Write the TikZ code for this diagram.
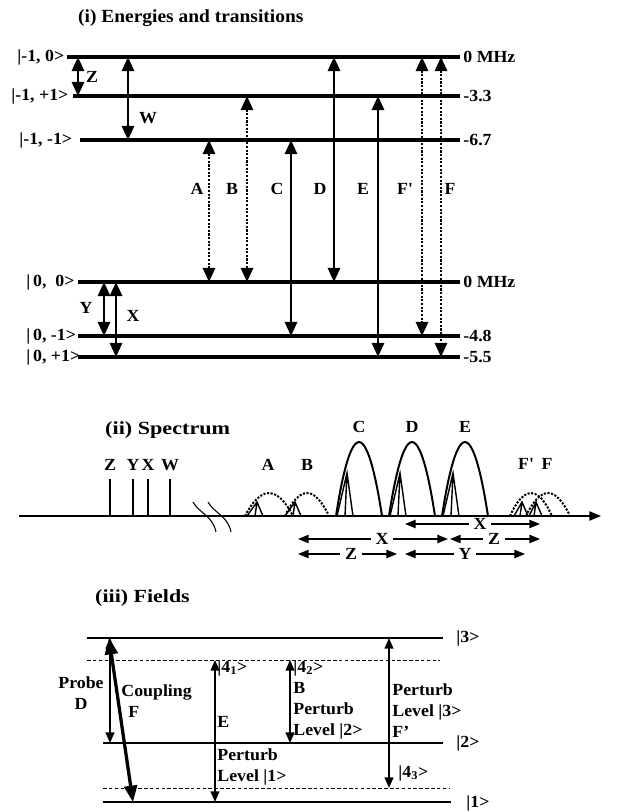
\documentclass[tikz,border=0pt]{standalone}
\usepackage{fontspec}
\setmainfont[FakeStretch=1.05]{Liberation Serif}
\usetikzlibrary{arrows.meta}

\tikzset{
  lvl/.style={line width=2.6pt},
  tri/.style={line width=1.7pt,{Triangle[length=12pt,width=10.5pt]}-{Triangle[length=12pt,width=10.5pt]}},
  dots/.style={dash pattern=on 1.8pt off 1.3pt},
  lbl/.style={font=\fontsize{14.5}{18}\selectfont\bfseries,inner sep=1pt},
  ttl/.style={font=\fontsize{15.8}{19}\selectfont\bfseries,anchor=west,inner sep=0pt},
  hump/.style={line width=1.7pt},
  dimarr/.style={line width=1.2pt,-{Triangle[length=9pt,width=7pt]}},
  fline/.style={line width=1pt},
  fdash/.style={line width=0.8pt,dash pattern=on 3pt off 2pt},
  farr/.style={line width=1.2pt,{Triangle[length=9pt,width=7.5pt]}-{Triangle[length=9pt,width=7.5pt]}},
}

\begin{document}
\begin{tikzpicture}[x=0.03cm,y=-0.03cm]
\useasboundingbox (0,0) rectangle (632,812);

% (i) energies and transitions
\node[ttl] (t1) at (78,18) {(i) Energies and transitions};
\foreach \n/\xa/\y/\xl/\t/\r in {m10/67/57/16/{|-1, 0>}/{0 MHz}, m1p/73/96/10/{|-1, +1>}/{-3.3},
    m1m/80/140/18/{|-1, -1>}/{-6.7}, z00/78/282/25/{|\,0,~~0>}/{0 MHz},
    z0m/78/336/25/{|\,0, -1>}/{-4.8}, z0p/78/357/25/{|\,0, +1>}/{-5.5}}{
  \coordinate (\n) at (\xa,\y);
  \coordinate (\n e) at (460,\y);
  \draw[lvl] (\n) -- (\n e);
  \node[lbl,anchor=west] (\n l) at (\xl,\y) {\t};
  \node[lbl,anchor=west] (\n r) at (462,\y) {\r};
}
\foreach \nm/\c/\x/\a/\b/\s/\lx in {A/A/209/m1m/z00/dots/197, B/B/247/m1p/z00/dots/232,
    C/C/291/m1m/z0m/solid/277, D/D/334/m10/z00/solid/320, E/E/378/m1p/z0p/solid/363,
    Fp/F\textquotesingle/422/m10/z0m/dots/405, F/F/441/m10/z0p/dots/450}{
  \coordinate (c\nm) at (\x,0);
  \draw[tri,\s] (c\nm |- \a) -- (c\nm |- \b);
  \node[lbl] (l\nm) at (\lx,189) {\c};
}
\foreach \nm/\x/\a/\b/\lx/\ly in {Z/78/m10/m1p/92/77, W/128/m10/m1m/148/118,
    Y/104/z00/z0m/86/308, X/116/z00/z0p/133/316}{
  \coordinate (c\nm) at (\x,0);
  \draw[tri] (c\nm |- \a) -- (c\nm |- \b);
  \node[lbl] (l\nm) at (\lx,\ly) {\nm};
}

% (ii) spectrum
\node[ttl] (t2) at (105,430) {\scalebox{1.14}[1]{(ii) Spectrum}};
\coordinate (ax0) at (19,516);
\coordinate (ax1) at (601,516);
\draw[line width=1pt,-{Triangle[length=10pt,width=8pt]}] (ax0) -- (ax1);
\foreach \nm/\x in {Z/110,Y/133,X/148,W/170}{
  \draw[line width=1.8pt] (\x,479) -- (\x,516);
  \node[lbl] (s\nm) at (\x,465) {\nm};
}
\foreach \x in {193,208}
  \draw[line width=0.9pt] (\x,502) .. controls (\x+6,513) and (\x+20,516) .. (\x+23,532);
\foreach \a/\p/\b in {245/269/293, 285/307/329, 510/531/552, 526/548/570}
  \draw[hump,dots] (\a,516) parabola bend (\p,493) (\b,516);
\foreach \a/\p/\b in {336/359/382, 389/412/435, 442/465/488}
  \draw[hump] (\a,516) parabola bend (\p,442) (\b,516);
\foreach \x/\y/\l/\r in {257/502/247/263, 295/502/285/301, 347/473/337/353, 400/473/390/406,
    453/473/443/459, 522/502/514/528, 536/502/529/542}
  \draw[line width=1.2pt] (\l,516) -- (\x,\y) -- (\r,516) (\x,\y) -- (\x-2,516);
\foreach \nm/\c/\x/\y in {A/A/268/465, B/B/307/465, C/C/359/427, D/D/412/427, E/E/465/427,
    Fp/F\textquotesingle/526/464, F/F/547/464}
  \node[lbl] (p\nm) at (\x,\y) {\c};
\foreach \i/\t/\xa/\xm/\xb/\yy in {1/X/405/480/540/524, 2/X/298/382/448/539, 3/Z/450/494/540/539,
    4/Z/298/351/397/554, 5/Y/405/465/525/554}{
  \coordinate (d\i a) at (\xa,\yy);
  \coordinate (d\i b) at (\xb,\yy);
  \node[lbl,inner xsep=4pt] (d\i) at (\xm,\yy) {\t};
  \draw[dimarr] (d\i) -- (d\i a);
  \draw[dimarr] (d\i) -- (d\i b);
}

% (iii) fields
\node[ttl] (t3) at (95,598) {\scalebox{1.13}[1]{(iii) Fields}};
\foreach \n/\xa/\xb/\y/\s in {L3/87/443/638/fline, D1/87/440/660/fdash, L2/103/443/743/fline,
    D2/103/449/788/fdash, L1/103/451/802/fline}{
  \coordinate (\n) at (\xa,\y);
  \coordinate (\n e) at (\xb,\y);
  \draw[\s] (\n) -- (\n e);
}
\node[lbl,anchor=west] (k3) at (455,638) {|3>};
\node[lbl,anchor=west] (k2) at (455,743) {|2>};
\node[lbl,anchor=west] (k1) at (465,803) {|1>};
\coordinate (fD) at (110,0);
\coordinate (fFa) at (109,0);
\coordinate (fFb) at (133,0);
\coordinate (fE) at (215,0);
\coordinate (fB) at (290,0);
\coordinate (fFp) at (389,0);
\draw[farr] (fD |- L3) -- (fD |- L2);
\draw[line width=2.8pt,{Triangle[length=14pt,width=11pt]}-{Triangle[length=14pt,width=11pt]}] (fFa |- L3) -- (fFb |- L1);
\draw[farr] (fE |- D1) -- (fE |- L1);
\draw[farr] (fB |- D1) -- (fB |- L2);
\draw[farr] (fFp |- L3) -- (fFp |- D2);
\node[lbl,align=center] (probe) at (81,693) {Probe\\D};
\node[lbl,align=left,anchor=west] (coup) at (120,701) {Coupling\\\hspace{6pt}F};
\node[lbl,anchor=west] (q1) at (216,668) {|4\textsubscript{1}>};
\node[lbl,anchor=west] (qE) at (216,722) {E};
\node[lbl,align=left,anchor=west] (pert1) at (216,767) {Perturb\\Level |1>};
\node[lbl,align=left,anchor=west] (pert2) at (292,700) {|4\textsubscript{2}>\\B\\Perturb\\Level |2>};
\node[lbl,align=left,anchor=west] (pert3) at (391,711) {Perturb\\Level |3>\\F'};
\node[lbl,anchor=west] (q3) at (397,773) {|4\textsubscript{3}>};
\end{tikzpicture}
\end{document}
